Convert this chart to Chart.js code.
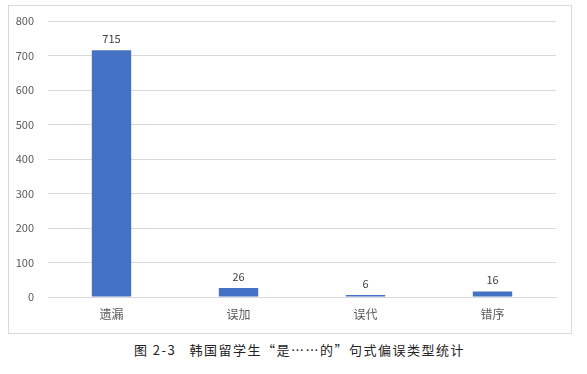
<!DOCTYPE html>
<html>
<head>
<meta charset="utf-8">
<script src="https://cdn.jsdelivr.net/npm/chart.js@4"></script>
<style>
  html, body { margin: 0; padding: 0; background: #fff; }
  body { width: 587px; height: 374px; position: relative; overflow: hidden; }
  #box {
    position: absolute; left: 8px; top: 5px; width: 562px; height: 327px;
    border: 1px solid #d9d9d9;
  }
  #chart { position: absolute; left: 0; top: 0; }
  #caption {
    position: absolute; left: 0; width: 587px; top: 340px; text-align: center;
    font-family: "Noto Sans CJK SC", sans-serif; font-size: 13px; color: #222;
    letter-spacing: 1.5px; white-space: pre; padding-left: 6px;
  }
</style>
</head>
<body>
<div id="box"><canvas id="chart" width="562" height="327"></canvas></div>
<div id="caption">图 2-3   韩国留学生“是……的”句式偏误类型统计</div>
<script>
const categories = ["遗漏", "误加", "误代", "错序"];
const counts = [715, 26, 6, 16];
const yTicks = [0, 100, 200, 300, 400, 500, 600, 700, 800];

// draw value above each bar
const valueLabels = {
  id: "valueLabels",
  afterDatasetsDraw(chart) {
    const ctx = chart.ctx;
    const meta = chart.getDatasetMeta(0);
    ctx.save();
    ctx.font = "11px 'Noto Sans CJK SC', sans-serif";
    ctx.fillStyle = "#404040";
    ctx.textAlign = "center";
    ctx.textBaseline = "bottom";
    meta.data.forEach((bar, i) => {
      ctx.fillText(counts[i], bar.x, bar.y - 6);
    });
    ctx.restore();
  }
};

new Chart(document.getElementById("chart"), {
  type: "bar",
  data: {
    labels: categories,
    datasets: [
      {
        data: counts,
        backgroundColor: "#4472c4",
        barPercentage: 0.31,
        categoryPercentage: 1,
      },
    ],
  },
  options: {
    responsive: false,
    animation: false,
    layout: { padding: { top: 15, right: 15, left: 0, bottom: 0 } },
    plugins: { legend: { display: false }, tooltip: { enabled: false } },
    scales: {
      x: {
        grid: { display: false, drawTicks: false },
        border: { color: "#d9d9d9", width: 1 },
        ticks: {
          color: "#595959",
          padding: 10,
          font: { family: "'Noto Sans CJK SC', sans-serif", size: 12 },
        },
        afterFit: (scale) => { scale.height = 36; },
      },
      y: {
        min: 0,
        max: 800,
        afterBuildTicks: (scale) => { scale.ticks = yTicks.map(v => ({ value: v })); },
        grid: { color: "#d9d9d9", drawTicks: false },
        border: { display: false },
        ticks: {
          color: "#595959",
          padding: 14,
          font: { family: "'Noto Sans CJK SC', sans-serif", size: 11 },
        },
        afterFit: (scale) => {
          scale.width = 39;
          scale.paddingTop = 7;
          scale.paddingBottom = 0;
        },
      },
    },
  },
  plugins: [valueLabels],
});
</script>
</body>
</html>
